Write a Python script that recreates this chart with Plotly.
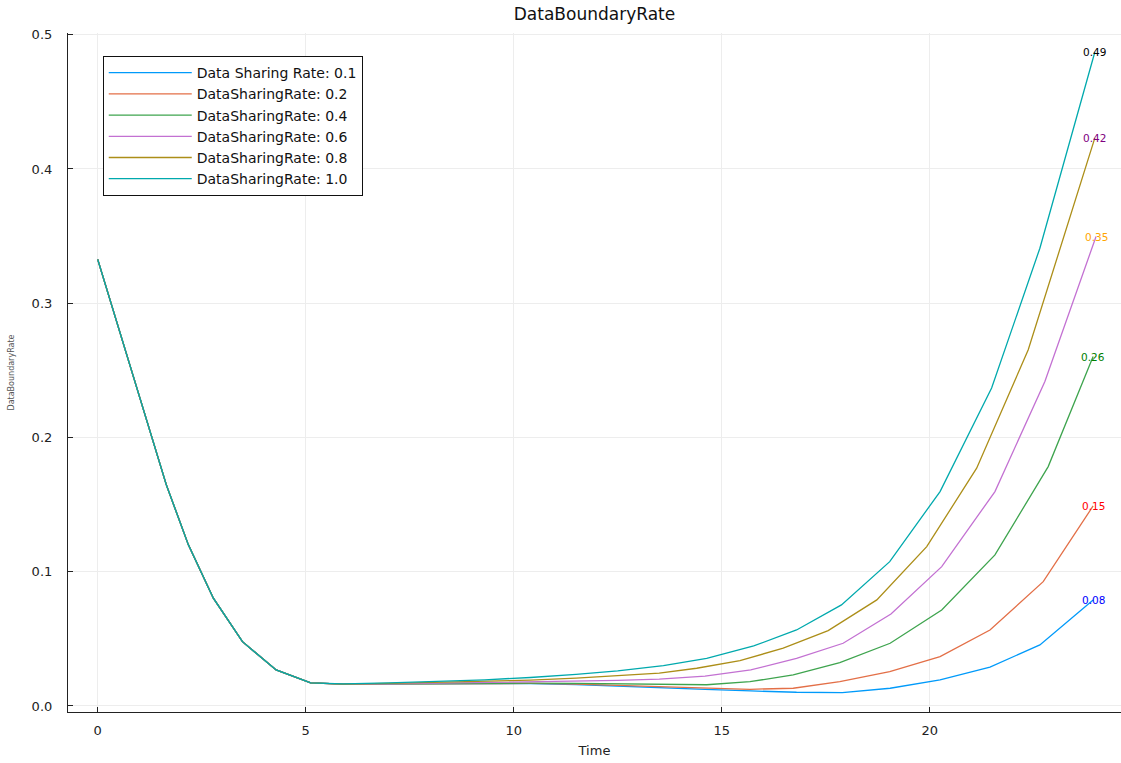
import plotly.graph_objects as go

# ---------------- data ----------------
# shared beginning of every curve
time_start = [0.0, 1.65, 2.18, 2.78, 3.48, 4.29, 5.12]
rate_start = [0.3327, 0.1647, 0.1200, 0.0803, 0.0479, 0.0268, 0.0172]

# middle section (shared time points, per-series values)
time_mid = [5.9, 7.0, 8.2, 9.3, 10.4, 11.5, 12.5]
rate_mid_01 = [0.0162, 0.0164, 0.0166, 0.0168, 0.0167, 0.0160, 0.0150]
rate_mid_02 = [0.0162, 0.0164, 0.0166, 0.0168, 0.0168, 0.0163, 0.0154]
rate_mid_04 = [0.0162, 0.0164, 0.0167, 0.0169, 0.0170, 0.0168, 0.0164]
rate_mid_06 = [0.0162, 0.0165, 0.0170, 0.0174, 0.0178, 0.0184, 0.0190]
rate_mid_08 = [0.0163, 0.0168, 0.0175, 0.0183, 0.0193, 0.0207, 0.0226]
rate_mid_10 = [0.0165, 0.0172, 0.0182, 0.0195, 0.0212, 0.0235, 0.0262]

# late section (per-series time points and values)
time_end_01 = [13.5, 14.6, 15.7, 16.8, 17.9, 19.05, 20.25, 21.45, 22.65, 23.93]
rate_end_01 = [0.0138, 0.0124, 0.0112, 0.0102, 0.0100, 0.0132, 0.0194, 0.0290, 0.0455, 0.0790]
time_end_02 = [13.5, 14.64, 15.68, 16.72, 17.84, 19.04, 20.25, 21.45, 22.73, 23.93]
rate_end_02 = [0.0145, 0.0132, 0.0124, 0.0132, 0.0181, 0.0256, 0.0367, 0.0566, 0.0926, 0.1490]
time_end_04 = [13.5, 14.64, 15.68, 16.72, 17.84, 19.05, 20.29, 21.57, 22.85, 23.93]
rate_end_04 = [0.0158, 0.0158, 0.0181, 0.0231, 0.0323, 0.0467, 0.0715, 0.1125, 0.1783, 0.2603]
time_end_06 = [13.5, 14.6, 15.7, 16.8, 17.92, 19.07, 20.29, 21.57, 22.77, 24.0]
rate_end_06 = [0.0200, 0.0222, 0.0268, 0.0355, 0.0467, 0.0685, 0.1038, 0.1597, 0.2417, 0.3497]
time_end_08 = [13.5, 14.4, 15.44, 16.48, 17.56, 18.73, 19.93, 21.13, 22.37, 23.97]
rate_end_08 = [0.0245, 0.0281, 0.0338, 0.0430, 0.0561, 0.0790, 0.1187, 0.1771, 0.2653, 0.4230]
time_end_10 = [13.6, 14.64, 15.77, 16.80, 17.88, 19.04, 20.25, 21.49, 22.65, 23.97]
rate_end_10 = [0.0300, 0.0355, 0.0447, 0.0566, 0.0753, 0.1075, 0.1597, 0.2368, 0.3410, 0.4870]

series_names = ["Data Sharing Rate: 0.1", "DataSharingRate: 0.2", "DataSharingRate: 0.4",
                "DataSharingRate: 0.6", "DataSharingRate: 0.8", "DataSharingRate: 1.0"]
line_colors = ["#009AFA", "#E36F47", "#3EA44E", "#C371D2", "#AC8E18", "#00A9AD"]
label_colors = ["blue", "red", "green", "orange", "purple", "black"]

x_ticks = [0, 5, 10, 15, 20]
y_ticks = [0.0, 0.1, 0.2, 0.3, 0.4, 0.5]

mids = [rate_mid_01, rate_mid_02, rate_mid_04, rate_mid_06, rate_mid_08, rate_mid_10]
end_times = [time_end_01, time_end_02, time_end_04, time_end_06, time_end_08, time_end_10]
end_rates = [rate_end_01, rate_end_02, rate_end_04, rate_end_06, rate_end_08, rate_end_10]

# ---------------- figure ----------------
FONT = "DejaVu Sans"
fig = go.Figure()
annotations = []
for name, col, lcol, mid, te, re_ in zip(series_names, line_colors, label_colors,
                                         mids, end_times, end_rates):
    xs = time_start + time_mid + te
    ys = rate_start + mid + re_
    fig.add_trace(go.Scatter(x=xs, y=ys, mode="lines", name=name,
                             line=dict(color=col, width=1.3)))
    annotations.append(dict(x=xs[-1], y=ys[-1], xref="x", yref="y",
                            text=f"{ys[-1]:.2f}", showarrow=False,
                            xanchor="center", yanchor="middle",
                            font=dict(family=FONT, size=10.5, color=lcol)))

fig.update_layout(
    width=1121, height=763,
    margin=dict(l=68, r=0, t=33, b=51),
    paper_bgcolor="white", plot_bgcolor="white",
    font=dict(family=FONT, color="#222222"),
    title=dict(text="DataBoundaryRate", x=0.5, xref="paper", xanchor="center",
               y=1 - 14 / 763, yanchor="middle",
               font=dict(family=FONT, size=17, color="#111111")),
    legend=dict(x=0.033, y=0.966, xanchor="left", yanchor="top",
                bordercolor="#111111", borderwidth=1, bgcolor="white",
                font=dict(family=FONT, size=14, color="#111111"),
                itemwidth=83, tracegroupgap=0),
    annotations=annotations,
)
fig.update_xaxes(range=[-0.714, 24.6], tickvals=x_ticks, ticks="inside", ticklen=5,
                 tickcolor="#222222", showline=True, linecolor="#222222", linewidth=1.2,
                 showgrid=True, gridcolor="#ededed", gridwidth=1, zeroline=False,
                 automargin=False,
                 tickfont=dict(family=FONT, size=13, color="#222222"),
                 ticklabelstandoff=6,
                 title=dict(text="Time", standoff=9,
                            font=dict(family=FONT, size=13, color="#222222")))
fig.update_yaxes(range=[-0.0045, 0.5013], tickvals=y_ticks, tickformat=".1f",
                 ticks="inside", ticklen=5,
                 tickcolor="#222222", showline=True, linecolor="#222222", linewidth=1.2,
                 showgrid=True, gridcolor="#ededed", gridwidth=1, zeroline=False,
                 automargin=False,
                 tickfont=dict(family=FONT, size=13, color="#222222"),
                 ticklabelstandoff=12,
                 title=dict(text="DataBoundaryRate", standoff=15,
                            font=dict(family=FONT, size=8, color="#555555")))

fig.write_html("out.html",
               config={"displayModeBar": False},
               post_script="document.body.style.margin='0px';"
                           "document.body.style.padding='0px';")
